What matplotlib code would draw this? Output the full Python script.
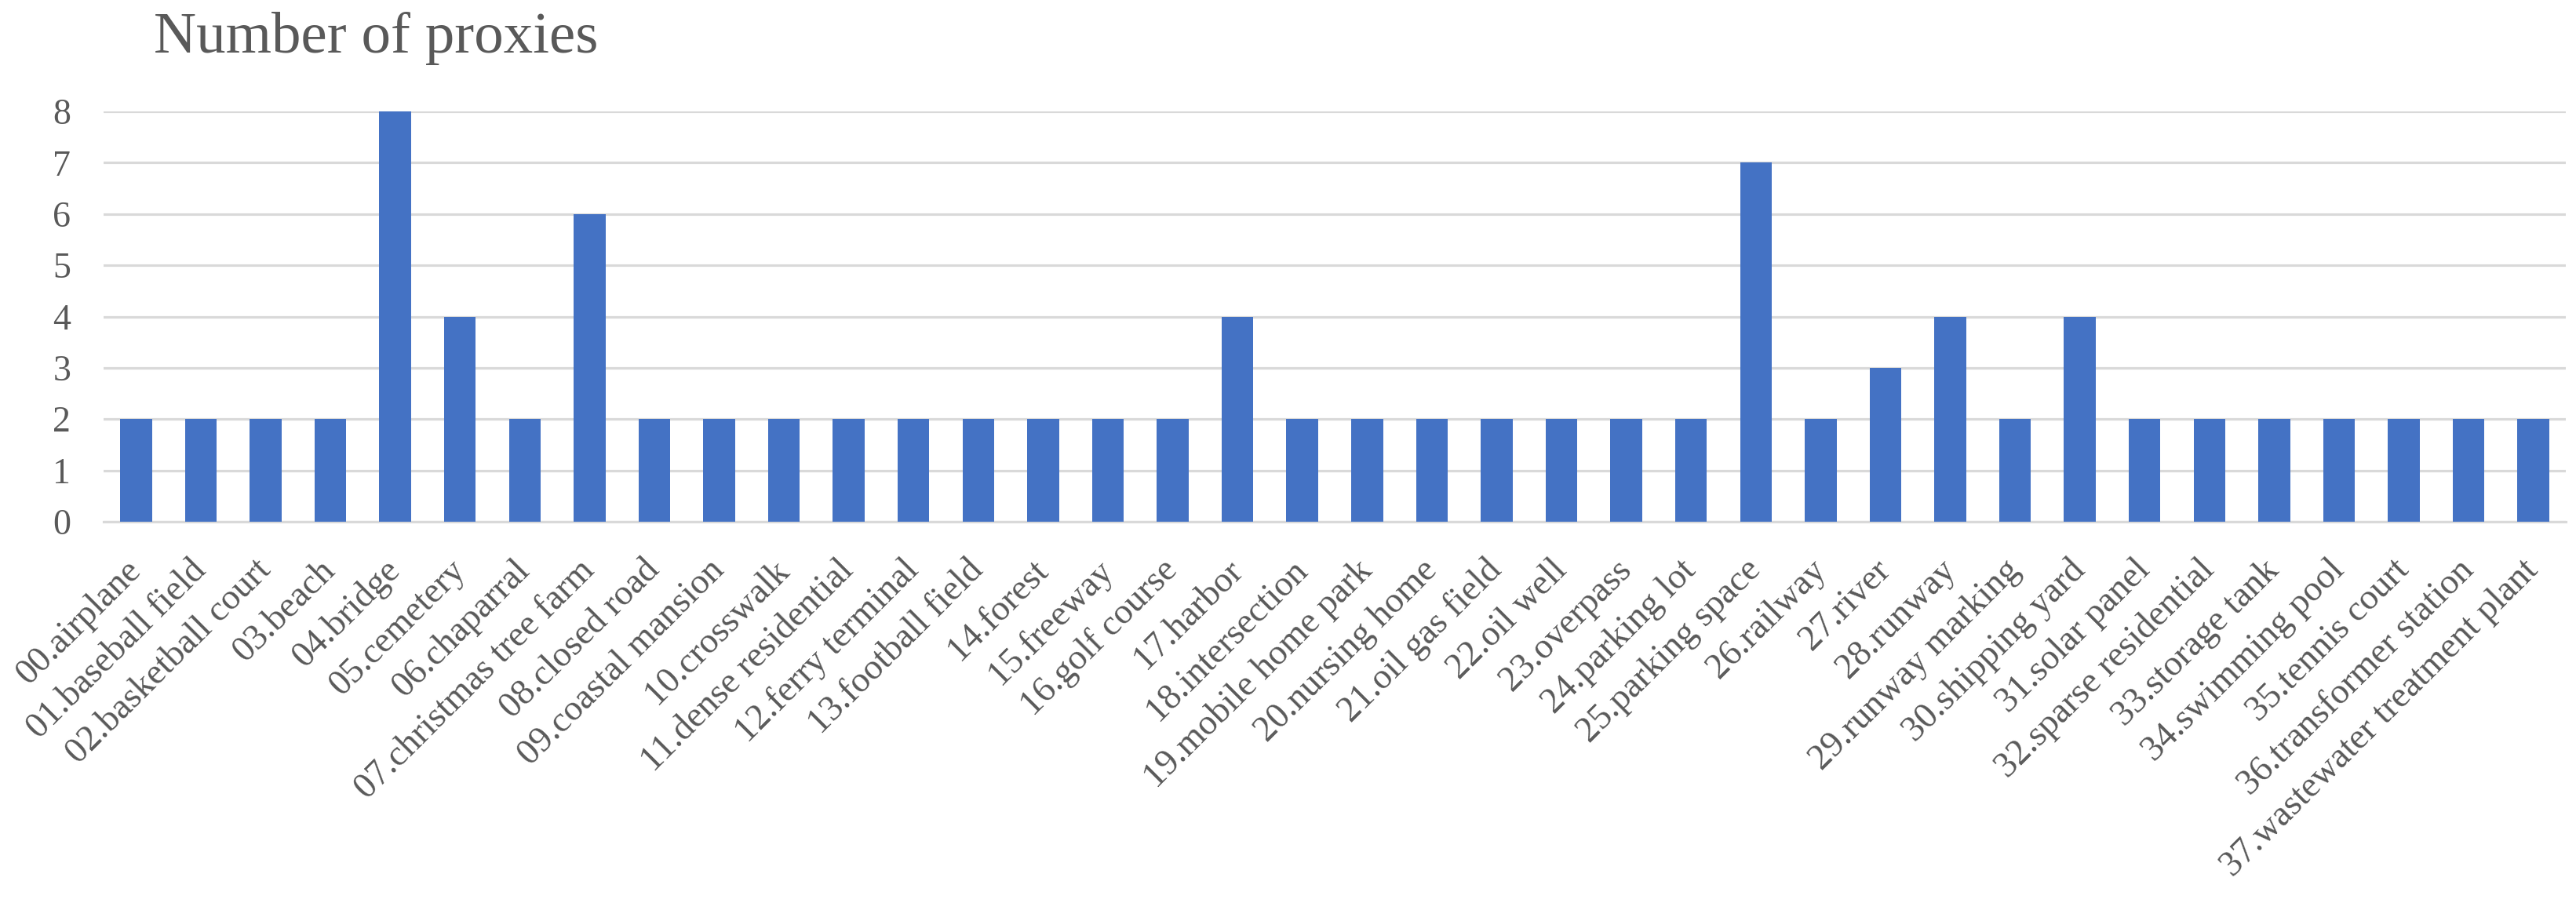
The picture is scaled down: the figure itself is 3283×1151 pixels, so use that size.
#!/usr/bin/env python3
import matplotlib
matplotlib.use('Agg')
import matplotlib.pyplot as plt

# data
categories = [
    '00.airplane', '01.baseball field', '02.basketball court', '03.beach',
    '04.bridge', '05.cemetery', '06.chaparral', '07.christmas tree farm',
    '08.closed road', '09.coastal mansion', '10.crosswalk',
    '11.dense residential', '12.ferry terminal', '13.football field',
    '14.forest', '15.freeway', '16.golf course', '17.harbor',
    '18.intersection', '19.mobile home park', '20.nursing home',
    '21.oil gas field', '22.oil well', '23.overpass', '24.parking lot',
    '25.parking space', '26.railway', '27.river', '28.runway',
    '29.runway marking', '30.shipping yard', '31.solar panel',
    '32.sparse residential', '33.storage tank', '34.swimming pool',
    '35.tennis court', '36.transformer station',
    '37.wastewater treatment plant',
]
proxies = [2, 2, 2, 2, 8, 4, 2, 6, 2, 2, 2, 2, 2, 2, 2, 2, 2, 4, 2, 2,
           2, 2, 2, 2, 2, 7, 2, 3, 4, 2, 4, 2, 2, 2, 2, 2, 2, 2]
y_ticks = [0, 1, 2, 3, 4, 5, 6, 7, 8]

text_color = '#595959'
grid_color = '#D9D9D9'
bar_color = '#4472C4'

plt.rcParams['font.family'] = ['Liberation Serif', 'DejaVu Serif']

W, H = 3283, 1151
fig = plt.figure(figsize=(W / 100, H / 100), dpi=100)
ax = fig.add_axes([132 / W, 1 - 665 / H, (3270 - 132) / W, (665 - 142) / H])

x = list(range(len(categories)))
ax.bar(x, proxies, width=0.49, color=bar_color, zorder=3)

ax.set_xlim(-0.5, len(categories) - 0.5)
ax.set_ylim(0, 8)
ax.set_yticks(y_ticks)
ax.set_yticklabels([str(t) for t in y_ticks])
ax.yaxis.grid(True, color=grid_color, linewidth=2.3, zorder=0)
ax.set_axisbelow(True)

for side in ['top', 'right', 'left']:
    ax.spines[side].set_visible(False)
ax.spines['bottom'].set_color(grid_color)
ax.spines['bottom'].set_linewidth(2.3)

ax.set_xticks(x)
ax.set_xticklabels(categories, rotation=45, ha='right', va='center',
                   rotation_mode='anchor')
ax.tick_params(axis='x', length=0, pad=40, labelsize=33, labelcolor=text_color)
ax.tick_params(axis='y', length=0, pad=30, labelsize=33, labelcolor=text_color)

fig.text(196 / W, 1 - 67 / H, 'Number of proxies', ha='left', va='baseline',
         fontsize=54, color=text_color)

fig.savefig('out.png', dpi=100, facecolor='white')
